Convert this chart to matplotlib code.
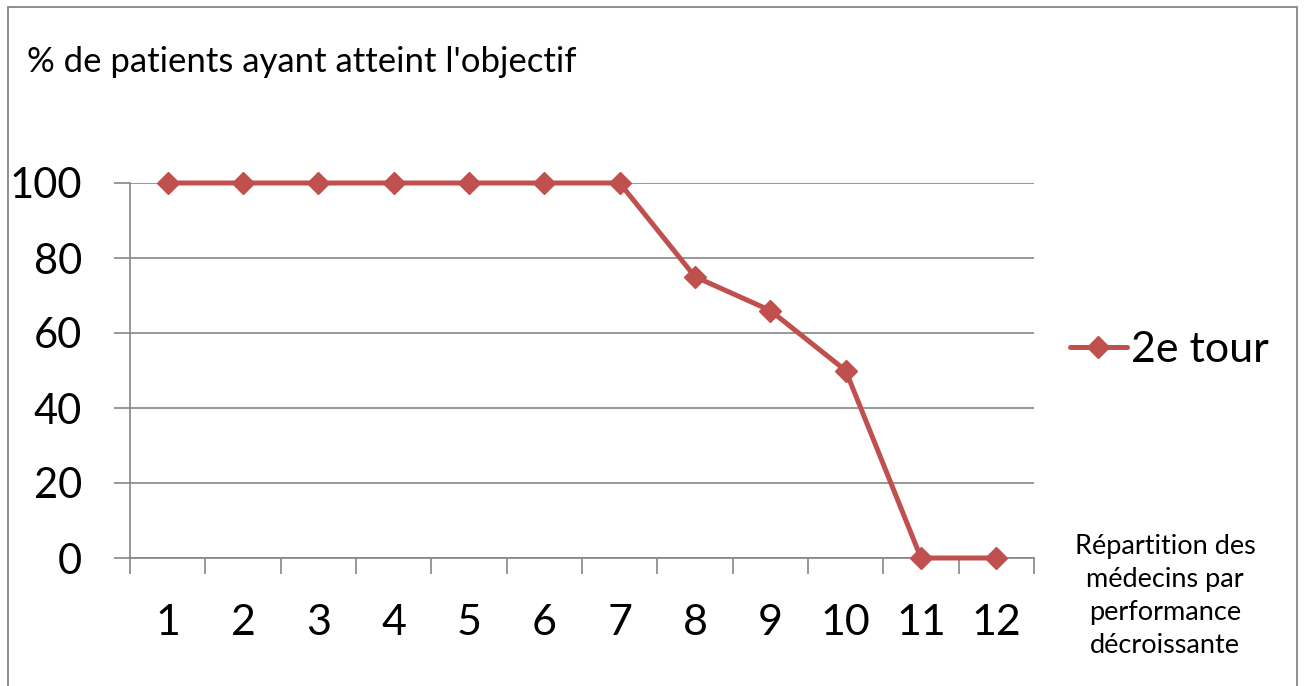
import matplotlib
matplotlib.use("Agg")
import matplotlib.pyplot as plt
from matplotlib.patches import Rectangle
from matplotlib.ticker import FixedLocator, NullFormatter

categories = [str(i) for i in range(1, 13)]
values = [100, 100, 100, 100, 100, 100, 100, 75, 66, 50, 0, 0]
series_name = "2e tour"
y_ticks = [0, 20, 40, 60, 80, 100]
title = "% de patients ayant atteint l'objectif"
x_label = "Répartition des\nmédecins par\nperformance\ndécroissante"

plt.rcParams['font.family'] = ['Lato', 'DejaVu Sans']
W, H = 1306, 686
fig = plt.figure(figsize=(W / 100, H / 100), dpi=100)
fig.patch.set_facecolor('white')

ax = fig.add_axes([130 / W, 1 - 558 / H, (1034 - 130) / W, (558 - 183) / H])
grey = '#868686'
red = '#C0504D'

x = list(range(1, len(categories) + 1))
ax.plot(x, values, color=red, lw=3.6, marker='D', markersize=11.5,
        markerfacecolor=red, markeredgecolor=red, label=series_name, zorder=3,
        solid_joinstyle='round', solid_capstyle='round', clip_on=False)

ax.set_xlim(0.5, len(categories) + 0.5)
ax.set_ylim(0, 100)
ax.set_yticks(y_ticks)
ax.set_yticklabels([str(v) for v in y_ticks])
ax.yaxis.grid(True, color=grey, lw=1.2)
ax.set_axisbelow(True)

ax.set_xticks(x)
ax.set_xticklabels(categories)
ax.tick_params(axis='x', which='major', length=0, pad=33, labelsize=31)
ax.xaxis.set_minor_locator(FixedLocator([i + 0.5 for i in range(0, len(categories) + 1)]))
ax.xaxis.set_minor_formatter(NullFormatter())
ax.tick_params(axis='x', which='minor', length=11.5, width=1.2, color=grey, direction='out')
ax.tick_params(axis='y', length=11.5, width=1.2, color=grey, direction='out', labelsize=30, pad=23)

for s in ['top', 'right']:
    ax.spines[s].set_visible(False)
for s in ['left', 'bottom']:
    ax.spines[s].set_color(grey)
    ax.spines[s].set_linewidth(1.2)

fig.text(27 / W, 1 - 62 / H, title, fontsize=25, va='center', ha='left')
fig.text(1165 / W, 1 - 596 / H, x_label, fontsize=19.5, va='center', ha='center',
         linespacing=1.4)

leg = fig.legend(loc='center left', bbox_to_anchor=(1070 / W, 1 - 350 / H),
                 frameon=False, fontsize=31, handlelength=1.32, handletextpad=0.1,
                 borderpad=0, borderaxespad=0)

fig.patches.append(Rectangle((8 / W, -0.05), (1297 - 8) / W, 1.05 - 7 / H,
                             transform=fig.transFigure, fill=False,
                             edgecolor=grey, lw=1.3, figure=fig))

fig.savefig('out.png', dpi=100)
